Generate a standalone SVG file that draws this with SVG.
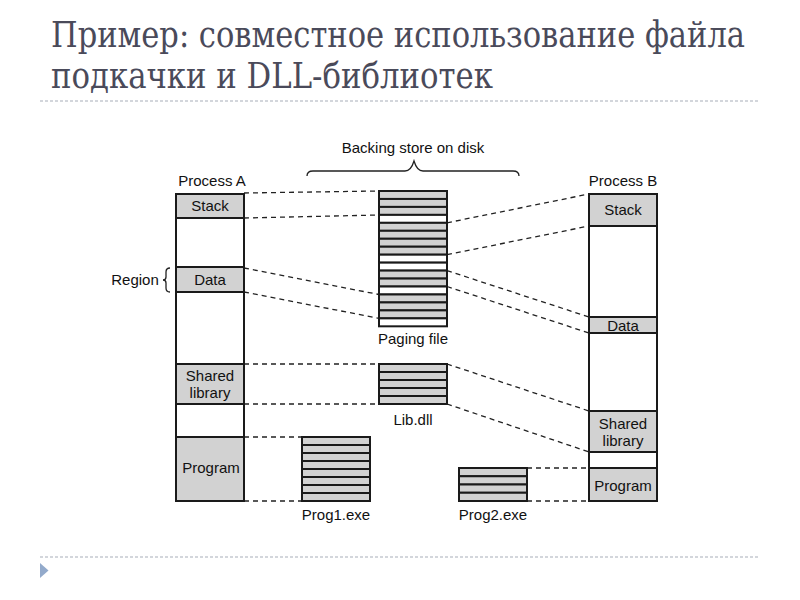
<svg xmlns="http://www.w3.org/2000/svg" width="800" height="600" viewBox="0 0 800 600">
<style>
.title{font-family:"DejaVu Serif Condensed","DejaVu Serif","Liberation Serif",serif;font-size:35px;fill:#4a4a5a;}
.lbl{font-family:"Liberation Sans",Arial,sans-serif;font-size:15px;fill:#111;text-anchor:middle;}
.seg{stroke:#1a1a1a;stroke-width:2;}
.g{fill:#d2d2d2;}
.w{fill:#fff;}
.dash{stroke:#222;stroke-width:1.3;stroke-dasharray:5 4;fill:none;}
.sep{stroke:#a7adb8;stroke-width:1;stroke-dasharray:3 2;}
.brace{stroke:#222;stroke-width:1.3;fill:none;}
</style>
<rect width="800" height="600" fill="#fff"/>
<g id="title">
<text class="title" x="51" y="47" textLength="694" lengthAdjust="spacingAndGlyphs">Пример: совместное использование файла</text>
<text class="title" x="51" y="88" textLength="442" lengthAdjust="spacingAndGlyphs">подкачки и DLL-библиотек</text>
<line class="sep" x1="40" y1="101" x2="760" y2="101"/>
<line class="sep" x1="40" y1="557" x2="760" y2="557"/>
<polygon points="40,563 48.5,570.5 40,578" fill="#93aacb"/>
</g>
<g id="connectors">
<line class="dash" x1="244" y1="193" x2="379" y2="191"/>
<line class="dash" x1="244" y1="218" x2="379" y2="215"/>
<line class="dash" x1="244" y1="268" x2="379" y2="294.5"/>
<line class="dash" x1="244" y1="292" x2="379" y2="318.4"/>
<line class="dash" x1="447" y1="222.8" x2="589" y2="194"/>
<line class="dash" x1="447" y1="254.7" x2="589" y2="226"/>
<line class="dash" x1="447" y1="270.6" x2="589" y2="317"/>
<line class="dash" x1="447" y1="286.5" x2="589" y2="333"/>
<line class="dash" x1="244" y1="364" x2="379" y2="364"/>
<line class="dash" x1="244" y1="404" x2="379" y2="404"/>
<line class="dash" x1="447" y1="364" x2="589" y2="411"/>
<line class="dash" x1="447" y1="404" x2="589" y2="452"/>
<line class="dash" x1="244" y1="437" x2="302" y2="437"/>
<line class="dash" x1="244" y1="501" x2="302" y2="501"/>
<line class="dash" x1="527" y1="468" x2="589" y2="468"/>
<line class="dash" x1="527" y1="501" x2="589" y2="501"/>
</g>
<g id="backing-store">
<text class="lbl" x="413" y="153">Backing store on disk</text>
<path class="brace" d="M307,176 Q307,171 313,171 L405,171 Q411,171 414,161 Q417,171 423,171 L513,171 Q519,171 519,176"/>
</g>
<g id="process-a">
<text class="lbl" x="212" y="186">Process A</text>
<rect class="seg g" x="176" y="194" width="68" height="24"/>
<rect class="seg w" x="176" y="218" width="68" height="49"/>
<rect class="seg g" x="176" y="267" width="68" height="25"/>
<rect class="seg w" x="176" y="292" width="68" height="72"/>
<rect class="seg g" x="176" y="364" width="68" height="40"/>
<rect class="seg w" x="176" y="404" width="68" height="33"/>
<rect class="seg g" x="176" y="437" width="68" height="64"/>
<text class="lbl" x="210" y="211">Stack</text>
<text class="lbl" x="210" y="285">Data</text>
<text class="lbl" x="210" y="381">Shared</text>
<text class="lbl" x="210" y="398">library</text>
<text class="lbl" x="211" y="473">Program</text>
</g>
<g id="region">
<text class="lbl" x="135" y="285">Region</text>
<path class="brace" d="M170,268 Q166,268 166,272 L166,277 Q166,280 163,280 Q166,280 166,283 L166,288 Q166,292 170,292"/>
</g>
<g id="paging-file">
<rect class="seg g" x="379" y="191" width="68" height="7.96"/>
<rect class="seg g" x="379" y="198.96" width="68" height="7.96"/>
<rect class="seg g" x="379" y="206.92" width="68" height="7.96"/>
<rect class="seg w" x="379" y="214.88" width="68" height="7.96"/>
<rect class="seg g" x="379" y="222.84" width="68" height="7.96"/>
<rect class="seg g" x="379" y="230.8" width="68" height="7.96"/>
<rect class="seg g" x="379" y="238.76" width="68" height="7.96"/>
<rect class="seg g" x="379" y="246.72" width="68" height="7.96"/>
<rect class="seg w" x="379" y="254.68" width="68" height="7.96"/>
<rect class="seg w" x="379" y="262.64" width="68" height="7.96"/>
<rect class="seg g" x="379" y="270.6" width="68" height="7.96"/>
<rect class="seg g" x="379" y="278.56" width="68" height="7.96"/>
<rect class="seg w" x="379" y="286.52" width="68" height="7.96"/>
<rect class="seg g" x="379" y="294.48" width="68" height="7.96"/>
<rect class="seg g" x="379" y="302.44" width="68" height="7.96"/>
<rect class="seg g" x="379" y="310.4" width="68" height="7.96"/>
<rect class="seg w" x="379" y="318.36" width="68" height="7.96"/>
<text class="lbl" x="413" y="344">Paging file</text>
</g>
<g id="lib-dll">
<rect class="seg g" x="379" y="364" width="68" height="8"/>
<rect class="seg g" x="379" y="372" width="68" height="8"/>
<rect class="seg g" x="379" y="380" width="68" height="8"/>
<rect class="seg g" x="379" y="388" width="68" height="8"/>
<rect class="seg g" x="379" y="396" width="68" height="8"/>
<text class="lbl" x="413" y="425">Lib.dll</text>
</g>
<g id="prog1-exe">
<rect class="seg g" x="302" y="437" width="68" height="8"/>
<rect class="seg g" x="302" y="445" width="68" height="8"/>
<rect class="seg g" x="302" y="453" width="68" height="8"/>
<rect class="seg g" x="302" y="461" width="68" height="8"/>
<rect class="seg g" x="302" y="469" width="68" height="8"/>
<rect class="seg g" x="302" y="477" width="68" height="8"/>
<rect class="seg g" x="302" y="485" width="68" height="8"/>
<rect class="seg g" x="302" y="493" width="68" height="8"/>
<text class="lbl" x="336" y="520">Prog1.exe</text>
</g>
<g id="prog2-exe">
<rect class="seg g" x="459" y="468" width="68" height="8.25"/>
<rect class="seg g" x="459" y="476.25" width="68" height="8.25"/>
<rect class="seg g" x="459" y="484.5" width="68" height="8.25"/>
<rect class="seg g" x="459" y="492.75" width="68" height="8.25"/>
<text class="lbl" x="493" y="520">Prog2.exe</text>
</g>
<g id="process-b">
<text class="lbl" x="623" y="186">Process B</text>
<rect class="seg g" x="589" y="194" width="68" height="32"/>
<rect class="seg w" x="589" y="226" width="68" height="91"/>
<rect class="seg g" x="589" y="317" width="68" height="16"/>
<rect class="seg w" x="589" y="333" width="68" height="78"/>
<rect class="seg g" x="589" y="411" width="68" height="41"/>
<rect class="seg w" x="589" y="452" width="68" height="16"/>
<rect class="seg g" x="589" y="468" width="68" height="33"/>
<text class="lbl" x="623" y="215">Stack</text>
<text class="lbl" x="623" y="331">Data</text>
<text class="lbl" x="623" y="429">Shared</text>
<text class="lbl" x="623" y="446">library</text>
<text class="lbl" x="623" y="491">Program</text>
</g>
</svg>
